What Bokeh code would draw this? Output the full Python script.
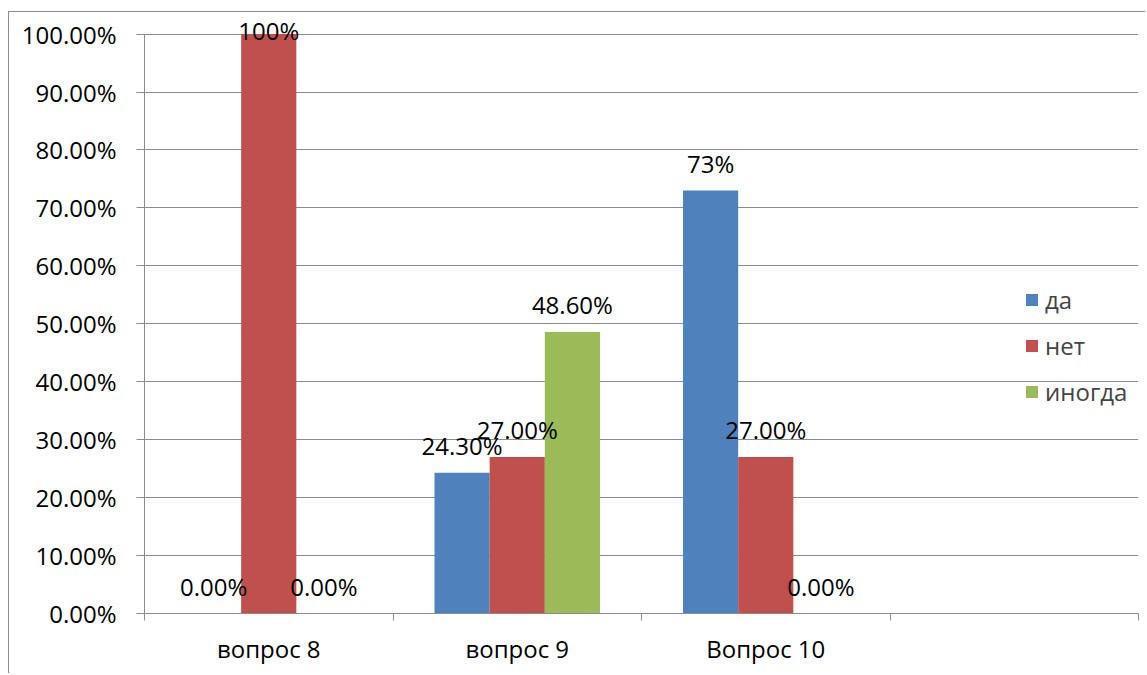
from bokeh.plotting import figure
from bokeh.models import (ColumnDataSource, Range1d, FixedTicker, PrintfTickFormatter,
                          LabelSet, Legend, LegendItem)
from bokeh.layouts import column
from bokeh.core.properties import value
from bokeh.embed import file_html
from bokeh.resources import INLINE

# ---- data ----
categories = ["вопрос 8", "вопрос 9", "Вопрос 10", ""]
series = ["да", "нет", "иногда"]
da = [0.0, 24.3, 73.0]
net = [100.0, 27.0, 27.0]
inogda = [0.0, 48.6, 0.0]
da_labels = ["0.00%", "24.30%", "73%"]
net_labels = ["100%", "27.00%", "27.00%"]
inogda_labels = ["0.00%", "48.60%", "0.00%"]
y_ticks = [0, 10, 20, 30, 40, 50, 60, 70, 80, 90, 100]

colors = ["#4F81BD", "#C0504D", "#9BBB59"]
FONT = "Open Sans"
FS = "24px"
GRID = "#8c8c8c"

p = figure(width=1136, height=661, output_backend="svg", toolbar_location=None,
           x_range=Range1d(0, len(categories)), y_range=Range1d(0, 102),
           min_border_left=135, min_border_right=7, min_border_top=10, min_border_bottom=60)
p.outline_line_color = None
p.background_fill_color = "white"
p.border_fill_color = "white"

bw = 0.222
legend_items = []
all_vals = [da, net, inogda]
all_labels = [da_labels, net_labels, inogda_labels]
for j, (vals, labs) in enumerate(zip(all_vals, all_labels)):
    xs = [i + 0.5 + (j - 1) * bw for i in range(len(vals))]
    src = ColumnDataSource(dict(
        x=xs, top=vals, lab=labs,
        off=[-6 if v >= 97 else 18 for v in vals]))
    r = p.vbar(x="x", top="top", width=bw, bottom=0, source=src,
               fill_color=colors[j], line_color=None)
    legend_items.append(LegendItem(label=series[j], renderers=[r]))
    ls = LabelSet(x="x", y="top", text="lab", y_offset="off", source=src,
                  text_align="center", text_baseline="alphabetic",
                  text_font=value(FONT), text_font_size=FS, text_color="black",
                  level="overlay")
    p.add_layout(ls)

# x axis
p.xaxis.ticker = FixedTicker(ticks=[i + 0.5 for i in range(len(categories))],
                             minor_ticks=list(range(len(categories) + 1)))
p.xaxis.major_label_overrides = {i + 0.5: c for i, c in enumerate(categories)}
p.xaxis.major_tick_out = 0
p.xaxis.major_tick_in = 0
p.xaxis.minor_tick_out = 7
p.xaxis.minor_tick_in = 0
p.xaxis.minor_tick_line_color = GRID
p.xaxis.axis_line_color = GRID
p.xaxis.major_label_text_font = FONT
p.xaxis.major_label_text_font_size = FS
p.xaxis.major_label_text_color = "black"
p.xaxis.major_label_standoff = 11
p.xgrid.grid_line_color = None

# y axis
p.yaxis.ticker = FixedTicker(ticks=y_ticks, minor_ticks=[])
p.yaxis.bounds = (0, 100)
p.yaxis.formatter = PrintfTickFormatter(format="%.2f%%")
p.yaxis.major_tick_out = 8
p.yaxis.major_tick_in = 0
p.yaxis.major_tick_line_color = GRID
p.yaxis.axis_line_color = GRID
p.yaxis.major_label_text_font = FONT
p.yaxis.major_label_text_font_size = FS
p.yaxis.major_label_text_color = "black"
p.yaxis.major_label_standoff = 20
p.ygrid.grid_line_color = GRID
p.ygrid.grid_line_width = 1

legend = Legend(items=legend_items, location=(880, 205), orientation="vertical",
                background_fill_alpha=0, border_line_color=None,
                label_text_font=FONT, label_text_font_size=FS,
                glyph_width=15, glyph_height=15, label_height=20,
                spacing=13, padding=0, margin=0, label_standoff=6)
p.add_layout(legend)

layout = column(p, styles={"border-left": "1px solid #8c8c8c",
                           "border-top": "1px solid #8c8c8c",
                           "margin-left": "8px",
                           "margin-top": "11px"})

open("out.html", "w").write(file_html(layout, INLINE))
